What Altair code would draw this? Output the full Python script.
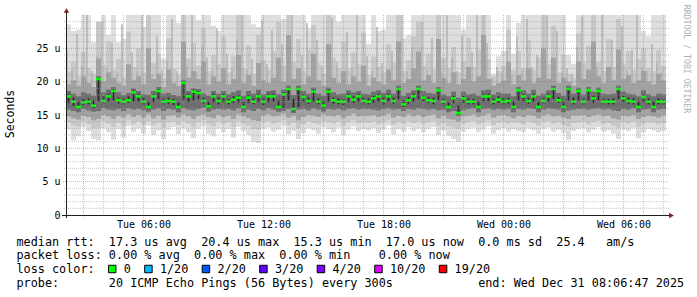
import altair as alt
import pandas as pd

FONT = "DejaVu Sans Mono"

# time axis: hours counted from Tue 00:00, one sample every 15 minutes
START_H = 2.125
STEP_H = 0.25
END_H = 32.125

x_tick_hours = [6, 12, 18, 24, 30]
y_tick_values = [0, 5, 10, 15, 20, 25]

# median rtt (microseconds)
median = [
    17.8, 17.0, 16.2, 16.9, 17.0, 16.4, 20.4, 17.1, 17.8, 18.6,
    17.2, 17.0, 17.2, 18.4, 17.8, 17.0, 16.2, 17.8, 18.6, 17.0,
    17.1, 17.0, 16.2, 19.8, 17.8, 18.5, 18.3, 17.1, 16.3, 17.8,
    17.1, 17.8, 17.0, 17.3, 17.6, 16.2, 17.6, 17.0, 17.8, 17.0,
    17.8, 17.8, 16.2, 18.1, 18.9, 15.9, 18.9, 17.7, 17.1, 18.5,
    17.0, 16.4, 18.5, 17.2, 17.0, 17.0, 17.8, 17.3, 17.8, 17.1,
    17.0, 17.5, 17.8, 17.1, 17.8, 17.1, 18.9, 16.6, 17.2, 17.8,
    18.9, 17.6, 17.2, 17.1, 18.7, 17.0, 16.2, 17.5, 15.3, 17.5,
    17.0, 17.0, 16.2, 17.8, 17.8, 17.0, 17.3, 17.0, 17.1, 16.2,
    18.7, 17.8, 17.1, 17.8, 16.2, 17.1, 17.8, 18.9, 17.2, 16.2,
    18.9, 17.0, 18.6, 17.0, 18.7, 17.5, 18.6, 17.0, 17.0, 17.0,
    18.9, 17.5, 17.1, 17.0, 16.2, 17.7, 17.0, 16.2, 17.0, 17.0,
]

# smoke: outer (lightest) band
smoke1_hi = [
    28.6, 27.6, 27.8, 30, 30, 25.9, 26.2, 30, 27.0, 30,
    25.9, 26.4, 30, 30, 30, 28.2, 30, 30, 30, 23.5,
    30, 30, 28.8, 30, 30, 30, 29.2, 30, 30, 28.4,
    27.6, 30, 30, 30, 29.0, 30, 30, 28.6, 28.2, 30,
    30, 30, 30, 29.4, 30, 30, 30, 30, 28.0, 30,
    30, 30, 30, 30, 29.0, 30, 30, 30, 30, 30,
    25.7, 30, 27.6, 27.8, 30, 30, 30, 26.5, 27.0, 30,
    30, 30, 30, 30, 30, 30, 30, 30, 30, 27.8,
    30, 30, 30, 30, 30, 21.2, 23.8, 24.6, 30, 24.2,
    28.8, 30, 30, 30, 30, 30, 30, 30, 30, 30,
    24.0, 22.7, 30, 30, 30, 30, 30, 30, 30, 30,
    30, 30, 30, 30, 30, 27.6, 26.8, 30, 30, 30,
]
smoke1_lo = [
    12.8, 11.2, 11.8, 13.2, 12.6, 11.4, 11.2, 13.0, 12.4, 11.3,
    12.9, 11.6, 13.3, 12.5, 13.0, 12.2, 13.4, 12.0, 12.7, 11.4,
    12.8, 13.2, 12.1, 13.0, 12.4, 11.5, 12.9, 13.3, 12.2, 11.8,
    13.0, 12.4, 12.9, 11.6, 13.2, 12.6, 12.0, 11.0, 10.8, 12.9,
    13.1, 12.5, 12.8, 13.3, 12.1, 12.6, 11.4, 12.3, 13.0, 12.7,
    12.2, 13.2, 12.9, 12.4, 13.1, 12.0, 12.8, 13.3, 12.6, 12.9,
    12.7, 13.0, 12.3, 12.8, 13.4, 12.1, 12.9, 12.5, 13.2, 12.6,
    13.0, 12.4, 12.9, 13.2, 12.0, 12.7, 11.9, 11.4, 11.0, 12.5,
    12.9, 13.1, 12.4, 12.8, 13.3, 12.2, 12.7, 13.0, 12.5, 12.9,
    12.6, 12.4, 13.0, 12.7, 12.2, 12.9, 13.1, 12.5, 12.8, 12.3,
    11.3, 12.6, 12.9, 13.0, 12.4, 12.8, 13.2, 12.5, 12.7, 12.2,
    11.4, 12.8, 12.6, 13.0, 11.5, 12.4, 12.9, 12.7, 12.4, 12.6,
]
# second band
smoke2_hi = [
    21.5, 23.0, 20.8, 24.5, 22.0, 21.2, 29.0, 22.5, 26.0, 21.8,
    23.4, 20.6, 27.5, 22.2, 25.0, 21.4, 30.0, 22.8, 24.2, 20.5,
    26.5, 22.0, 21.0, 30.0, 23.5, 25.8, 22.4, 28.0, 21.6, 24.0,
    22.6, 26.8, 21.4, 23.8, 30.0, 22.0, 25.4, 21.2, 27.0, 23.2,
    21.8, 24.6, 29.0, 22.4, 30.0, 23.0, 26.4, 21.6, 24.8, 28.5,
    22.8, 21.2, 30.0, 23.6, 22.0, 26.0, 21.8, 24.4, 22.6, 27.4,
    21.0, 23.8, 22.2, 21.4, 25.6, 22.8, 30.0, 21.6, 23.2, 26.8,
    29.0, 22.4, 24.2, 21.8, 30.0, 23.6, 22.0, 25.2, 21.4, 23.0,
    26.6, 22.2, 24.8, 30.0, 23.4, 20.8, 21.6, 22.4, 27.8, 21.8,
    24.6, 22.0, 26.2, 21.8, 23.6, 30.0, 22.6, 28.4, 21.4, 24.0,
    21.2, 20.6, 27.2, 22.8, 25.4, 30.0, 23.0, 21.6, 26.4, 22.2,
    29.4, 22.6, 24.6, 21.8, 23.4, 25.0, 22.0, 21.6, 24.8, 22.4,
]
smoke2_lo = [
    13.9, 13.4, 13.2, 14.0, 13.6, 13.0, 13.1, 14.1, 13.7, 13.2,
    13.8, 13.3, 14.2, 13.6, 14.0, 13.5, 14.1, 13.4, 13.8, 13.1,
    13.9, 14.0, 13.5, 14.1, 13.7, 13.2, 13.9, 14.2, 13.6, 13.3,
    14.0, 13.6, 13.9, 13.2, 14.1, 13.7, 13.4, 12.9, 12.8, 13.9,
    14.1, 13.7, 13.9, 14.2, 13.5, 13.8, 13.0, 13.6, 14.0, 13.8,
    13.6, 14.1, 13.9, 13.7, 14.0, 13.4, 13.9, 14.2, 13.7, 13.9,
    13.8, 14.0, 13.6, 13.9, 14.2, 13.5, 13.9, 13.7, 14.1, 13.8,
    14.0, 13.6, 13.9, 14.1, 13.4, 13.8, 13.3, 13.1, 12.9, 13.7,
    13.9, 14.1, 13.6, 13.9, 14.2, 13.5, 13.8, 14.0, 13.7, 13.9,
    13.8, 13.6, 14.0, 13.8, 13.4, 13.9, 14.1, 13.7, 13.9, 13.5,
    13.2, 13.8, 13.9, 14.0, 13.6, 13.9, 14.1, 13.7, 13.8, 13.4,
    13.1, 13.9, 13.7, 14.0, 13.2, 13.6, 13.9, 13.8, 13.6, 13.8,
]
# third band
smoke3_hi = [
    19.6, 20.2, 19.4, 20.8, 19.8, 19.2, 23.5, 20.0, 21.4, 20.6,
    19.8, 19.4, 22.6, 20.2, 20.8, 19.6, 25.0, 20.4, 21.2, 19.2,
    21.8, 19.8, 19.4, 26.0, 20.6, 21.6, 20.4, 23.0, 19.6, 20.8,
    20.0, 22.0, 19.6, 20.4, 24.0, 19.8, 21.0, 19.4, 22.8, 20.2,
    19.8, 20.6, 23.6, 20.0, 27.0, 20.4, 22.0, 19.6, 20.8, 24.2,
    20.2, 19.4, 25.6, 20.6, 19.8, 21.6, 19.6, 20.8, 20.0, 22.4,
    19.4, 20.6, 20.0, 19.6, 21.8, 20.2, 26.0, 19.8, 20.4, 22.0,
    24.5, 20.2, 21.0, 19.8, 26.4, 20.6, 19.8, 21.4, 19.6, 20.4,
    22.2, 20.0, 20.8, 27.0, 20.4, 19.4, 19.8, 20.2, 23.0, 19.6,
    21.0, 20.2, 22.0, 19.8, 20.6, 25.0, 20.4, 23.6, 19.8, 20.6,
    20.0, 19.4, 23.0, 20.4, 21.8, 26.0, 20.8, 19.8, 22.2, 20.2,
    24.8, 20.4, 21.0, 19.8, 20.2, 21.6, 20.0, 19.6, 21.2, 20.2,
]
smoke3_lo = [
    14.8, 14.5, 14.3, 14.9, 14.7, 14.2, 14.4, 15.0, 14.8, 14.4,
    14.9, 14.6, 15.1, 14.7, 15.0, 14.6, 15.1, 14.5, 14.9, 14.3,
    14.9, 15.0, 14.6, 15.1, 14.8, 14.4, 14.9, 15.1, 14.7, 14.5,
    15.0, 14.7, 14.9, 14.4, 15.1, 14.8, 14.5, 14.2, 14.1, 14.9,
    15.1, 14.8, 14.9, 15.2, 14.6, 14.9, 14.2, 14.7, 15.0, 14.9,
    14.7, 15.1, 14.9, 14.8, 15.0, 14.5, 14.9, 15.2, 14.8, 14.9,
    14.9, 15.0, 14.7, 14.9, 15.2, 14.6, 14.9, 14.7, 15.1, 14.8,
    15.0, 14.7, 14.9, 15.1, 14.5, 14.9, 14.4, 14.3, 14.0, 14.8,
    14.9, 15.1, 14.7, 14.9, 15.2, 14.6, 14.9, 15.0, 14.8, 14.5,
    14.9, 14.7, 15.0, 14.9, 14.5, 14.9, 15.1, 14.8, 14.9, 14.6,
    14.4, 14.9, 14.9, 15.0, 14.7, 14.9, 15.1, 14.8, 14.9, 14.5,
    14.3, 14.9, 14.8, 15.0, 14.4, 14.7, 14.9, 14.8, 14.6, 14.9,
]
# fourth (dark) band
smoke4_hi = [
    18.6, 18.2, 17.8, 18.4, 18.2, 17.9, 20.8, 18.4, 18.8, 19.2,
    18.4, 18.0, 18.3, 19.0, 18.6, 18.1, 18.0, 18.6, 19.2, 18.2,
    18.3, 18.0, 17.8, 20.2, 18.6, 19.0, 18.9, 18.2, 17.9, 18.6,
    18.2, 18.6, 18.1, 18.4, 18.7, 17.9, 18.6, 18.2, 18.8, 18.1,
    18.6, 18.7, 18.1, 18.8, 19.4, 18.0, 19.4, 18.6, 18.2, 19.1,
    18.2, 17.9, 19.1, 18.4, 18.1, 18.2, 18.7, 18.4, 18.6, 18.2,
    18.1, 18.5, 18.7, 18.3, 18.8, 18.2, 19.4, 17.9, 18.3, 18.7,
    19.4, 18.6, 18.3, 18.2, 19.2, 18.1, 17.8, 18.5, 17.6, 18.5,
    18.1, 18.2, 17.9, 18.7, 18.8, 18.1, 18.4, 18.2, 18.2, 17.8,
    19.2, 18.7, 18.2, 18.8, 17.9, 18.2, 18.7, 19.4, 18.3, 17.9,
    19.4, 18.2, 19.1, 18.1, 19.2, 18.5, 19.1, 18.2, 18.1, 18.2,
    19.4, 18.5, 18.2, 18.1, 17.8, 18.7, 18.1, 17.8, 18.2, 18.1,
]
smoke4_lo = [
    15.8, 15.6, 15.4, 15.9, 15.7, 15.5, 15.6, 16.0, 15.8, 15.7,
    15.9, 15.6, 16.0, 15.8, 15.9, 15.7, 15.5, 15.8, 16.0, 15.6,
    15.9, 15.8, 15.4, 16.0, 15.8, 15.7, 15.9, 16.1, 15.5, 15.8,
    15.9, 15.8, 15.9, 15.7, 16.0, 15.4, 15.8, 15.6, 15.9, 15.7,
    16.0, 15.8, 15.5, 15.6, 15.9, 15.3, 15.8, 15.9, 15.7, 16.0,
    15.8, 15.5, 15.9, 15.8, 15.9, 15.7, 15.9, 16.0, 15.8, 15.9,
    15.9, 15.8, 15.7, 15.9, 16.0, 15.8, 15.9, 15.6, 15.9, 15.8,
    16.0, 15.9, 15.8, 15.9, 15.7, 15.8, 15.4, 15.6, 14.9, 15.7,
    15.9, 16.0, 15.4, 15.9, 16.0, 15.8, 15.9, 15.8, 15.9, 15.4,
    15.9, 15.8, 16.0, 15.9, 15.4, 15.8, 16.0, 15.9, 15.8, 15.4,
    15.7, 15.8, 15.9, 15.9, 15.8, 15.9, 16.0, 15.8, 15.9, 15.7,
    15.6, 15.9, 15.8, 16.0, 15.4, 15.8, 15.9, 15.4, 15.8, 15.9,
]
# innermost pings (near-black streak)
core_hi = [
    18.2, 17.6, 17.0, 17.4, 17.5, 17.2, 20.6, 17.8, 18.2, 18.9,
    17.6, 17.5, 17.8, 18.7, 18.2, 17.6, 17.0, 18.1, 18.9, 17.5,
    17.6, 17.4, 16.9, 20.0, 18.2, 18.8, 18.6, 17.6, 17.0, 18.2,
    17.6, 18.2, 17.4, 17.8, 18.0, 17.0, 18.0, 17.5, 18.2, 17.5,
    18.2, 18.2, 17.2, 18.4, 19.1, 17.4, 19.1, 18.1, 17.6, 18.8,
    17.5, 17.0, 18.8, 17.6, 17.5, 17.4, 18.2, 17.8, 18.2, 17.6,
    17.5, 17.9, 18.2, 17.6, 18.2, 17.6, 19.1, 17.2, 17.7, 18.2,
    19.1, 18.0, 17.7, 17.6, 18.9, 17.5, 16.9, 17.9, 16.4, 17.9,
    17.5, 17.4, 17.0, 18.2, 18.2, 17.5, 17.8, 17.5, 17.6, 17.0,
    18.9, 18.2, 17.6, 18.2, 17.0, 17.6, 18.2, 19.1, 17.7, 17.0,
    19.1, 17.6, 18.8, 17.5, 18.9, 17.9, 18.8, 17.5, 17.4, 17.5,
    19.1, 17.9, 17.6, 17.5, 17.0, 18.1, 17.5, 17.0, 17.5, 17.4,
]
core_lo = [
    16.8, 16.4, 15.9, 16.5, 16.6, 16.0, 17.0, 16.7, 17.0, 17.2,
    16.7, 16.6, 16.8, 17.0, 17.0, 16.6, 15.9, 16.9, 17.4, 16.6,
    16.7, 16.5, 15.9, 17.2, 16.9, 17.2, 17.4, 16.7, 16.0, 16.9,
    16.6, 16.9, 16.6, 16.8, 16.9, 15.9, 16.8, 16.6, 16.9, 16.5,
    16.9, 17.0, 15.9, 16.0, 17.2, 15.6, 16.2, 16.9, 16.7, 17.0,
    16.6, 16.0, 16.9, 16.7, 16.6, 16.5, 16.9, 16.8, 17.0, 16.6,
    16.6, 16.8, 17.0, 16.6, 17.0, 16.7, 17.4, 16.2, 16.7, 17.0,
    17.4, 17.0, 16.8, 16.6, 17.3, 16.6, 15.9, 16.8, 15.1, 16.8,
    16.6, 16.6, 15.9, 16.9, 17.0, 16.6, 16.8, 16.6, 16.7, 15.9,
    17.2, 16.9, 16.7, 17.0, 15.9, 16.7, 17.0, 17.4, 16.8, 15.9,
    17.2, 16.6, 17.2, 16.6, 17.2, 16.8, 17.2, 16.6, 16.6, 16.6,
    17.4, 16.9, 16.7, 16.6, 15.9, 16.9, 16.6, 15.9, 16.6, 16.6,
]
# single high pings: thin vertical streaks rising out of the smoke
streak_hi = [
    24.6, 21.8, 27.2, 22.4, 30.0, 21.6, 23.8, 29.0, 22.0, 25.8,
    21.4, 28.6, 22.2, 24.4, 21.6, 30.0, 22.8, 21.2, 26.8, 21.8,
    23.2, 29.4, 21.6, 24.8, 22.4, 30.0, 21.4, 25.4, 23.6, 21.8,
    28.0, 21.6, 24.2, 22.0, 26.4, 30.0, 21.8, 23.4, 21.2, 29.2,
    22.6, 27.8, 21.4, 25.6, 22.2, 30.0, 21.6, 24.0, 28.8, 21.8,
    26.2, 22.4, 21.4, 29.6, 23.0, 21.6, 27.4, 22.2, 30.0, 21.4,
    23.8, 21.6, 28.2, 22.8, 21.4, 24.6, 22.0, 30.0, 21.6, 25.2,
    22.4, 29.0, 21.8, 26.6, 22.2, 21.4, 30.0, 23.6, 21.6, 27.0,
    21.8, 24.4, 30.0, 21.6, 25.8, 20.6, 22.2, 21.4, 24.6, 21.0,
    26.8, 21.6, 29.4, 22.2, 24.0, 21.6, 30.0, 22.6, 27.6, 21.4,
    22.0, 21.2, 25.2, 29.8, 21.8, 23.4, 22.2, 30.0, 21.6, 26.2,
    22.4, 28.4, 21.8, 24.8, 30.0, 22.2, 21.6, 25.6, 22.8, 21.4,
]

legend_lines = [
    "median rtt:  17.3 us avg  20.4 us max  15.3 us min  17.0 us now  0.0 ms sd  25.4   am/s",
    "packet loss: 0.00 % avg  0.00 % max  0.00 % min    0.00 % now",
    "loss color:",
    "probe:       20 ICMP Echo Pings (56 Bytes) every 300s            end: Wed Dec 31 08:06:47 2025",
]
loss_labels = ["0", "1/20", "2/20", "3/20", "4/20", "10/20", "19/20"]
loss_colors = ["#00ff00", "#00b8ff", "#0059ff", "#5e00ff", "#7e00ff", "#dd00ff", "#ff0000"]

# ------------------------------------------------------------------
n = len(median)
t0 = [START_H + i * STEP_H for i in range(n)]
df = pd.DataFrame({
    "t0": t0,
    "t1": [v + STEP_H for v in t0],
    "tc": [v + STEP_H / 2 for v in t0],
    "ts": [v + STEP_H * 0.2 for v in t0],
    "med": median,
    "h1": smoke1_hi, "l1": smoke1_lo,
    "h2": smoke2_hi, "l2": smoke2_lo,
    "h3": smoke3_hi, "l3": smoke3_lo,
    "h4": smoke4_hi, "l4": smoke4_lo,
    "ch": core_hi, "cl": core_lo,
    "sh": streak_hi,
})

W, H = 600, 200
PL, PT = 66, 15
xs = alt.Scale(domain=[START_H, END_H], nice=False, zero=False)
ys = alt.Scale(domain=[0, 30], nice=False, zero=False)

x_axis = alt.Axis(
    values=x_tick_hours, title=None, grid=False, ticks=False, domain=False,
    labelExpr="(datum.value < 24 ? 'Tue ' : 'Wed ') + ((datum.value % 24) < 10 ? '0' : '') + (datum.value % 24) + ':00'",
    labelFont=FONT, labelFontSize=10, labelColor="#000000", labelPadding=4, labelFlush=False,
)
y_axis = alt.Axis(
    values=y_tick_values, title=None, grid=False, ticks=False, domain=False,
    labelExpr="datum.value == 0 ? '0\u00a0\u00a0' : datum.value + '\u00a0u'",
    labelFont=FONT, labelFontSize=10, labelColor="#000000", labelPadding=6,
    labelBaseline="middle",
)


def X(field):
    return alt.X(field, type="quantitative", scale=xs, axis=x_axis)


def Y(field):
    return alt.Y(field, type="quantitative", scale=ys, axis=y_axis)


def band(lo, hi, color):
    return alt.Chart(df).mark_rect(color=color).encode(
        x=X("t0"), x2="t1", y=Y(lo), y2=hi,
    )


layers = [
    band("l1", "h1", "#dedede"),
    band("l2", "h2", "#c8c8c8"),
    alt.Chart(df).mark_rule(color="#b2b2b2", strokeWidth=1.5).encode(
        x=X("ts"), y=Y("h3"), y2="sh"),
    band("l3", "h3", "#a2a2a2"),
    band("l4", "h4", "#6e6e6e"),
    alt.Chart(df).mark_rule(color="#262626", strokeWidth=1.6).encode(
        x=X("tc"), y=Y("cl"), y2="ch"),
    alt.Chart(df).mark_rule(color="#00ff00", strokeWidth=2.6).encode(
        x=X("t0"), x2="t1", y=Y("med")),
]

# grid lines (drawn over the smoke, like rrdtool)
hours = list(range(3, 33))
minor_h = pd.DataFrame({"h": [h for h in hours if h % 3]})
major_h = pd.DataFrame({"h": [h for h in hours if h % 3 == 0]})
minor_v = pd.DataFrame({"v": [v for v in range(1, 30) if v % 5]})
major_v = pd.DataFrame({"v": [v for v in range(5, 30, 5)]})
GRID, MGRID = "#9a9a9a", "#de4f4f"

layers += [
    alt.Chart(minor_h).mark_rule(color=GRID, opacity=0.55, strokeDash=[1, 1]).encode(
        x=X("h"), y=alt.value(0), y2=alt.value(H + 2)),
    alt.Chart(major_h).mark_rule(color=MGRID, opacity=0.5, strokeDash=[1, 1]).encode(
        x=X("h"), y=alt.value(0), y2=alt.value(H + 3)),
    alt.Chart(minor_v).mark_rule(color=GRID, opacity=0.55, strokeDash=[1, 1]).encode(
        y=Y("v"), x=alt.value(-2), x2=alt.value(W + 3)),
    alt.Chart(major_v).mark_rule(color=MGRID, opacity=0.5, strokeDash=[1, 1]).encode(
        y=Y("v"), x=alt.value(-3), x2=alt.value(W + 3)),
    # axis lines
    alt.Chart(pd.DataFrame({"a": [0]})).mark_rule(color="#1f1f1f", strokeWidth=1).encode(
        x=alt.value(-4), x2=alt.value(W + 5), y=alt.value(H + 0.5)),
    alt.Chart(pd.DataFrame({"a": [0]})).mark_rule(color="#1f1f1f", strokeWidth=1).encode(
        x=alt.value(0.5), y=alt.value(-4), y2=alt.value(H + 3)),
    # arrows
    alt.Chart(pd.DataFrame({"a": [0]})).mark_point(
        shape="triangle-up", filled=True, color="#801f1f", size=30, opacity=1).encode(
        x=alt.value(0.5), y=alt.value(-4.5)),
    alt.Chart(pd.DataFrame({"a": [0]})).mark_point(
        shape="triangle-right", filled=True, color="#801f1f", size=30, opacity=1).encode(
        x=alt.value(W + 5.5), y=alt.value(H + 0.5)),
]


def text(s, x, y, size=11.8, color="#000000", angle=0, align="left"):
    s = s.replace(" ", "\u00a0")
    return alt.Chart(pd.DataFrame({"s": [s]})).mark_text(
        font=FONT, fontSize=size, color=color, align=align, baseline="middle", angle=angle,
    ).encode(text="s:N", x=alt.value(x - PL), y=alt.value(y - PT))


CH = 7.1  # legend character advance
LX = 16.5
line_y = [241.7, 255.0, 269.0, 282.7]
for s, yy in zip(legend_lines, line_y):
    layers.append(text(s, LX, yy))

# loss colour boxes
tx = LX + 15.1 * CH
for lab, col in zip(loss_labels, loss_colors):
    bx = tx - 11.5
    layers.append(
        alt.Chart(pd.DataFrame({"a": [0]})).mark_square(
            size=56, color=col, opacity=1, stroke="#000000", strokeWidth=1).encode(
            x=alt.value(bx - PL), y=alt.value(line_y[2] - PT)))
    layers.append(text(lab, tx, line_y[2]))
    tx += (len(lab) + 4.1) * CH

layers.append(text("Seconds", 11, 114, size=11.5, angle=270, align="center"))
layers.append(text("RRDTOOL / TOBI OETIKER", 686, 59, size=8.2, color="#b0b0b0", angle=90, align="center"))

chart = alt.layer(*layers).properties(
    width=W, height=H,
    autosize=alt.AutoSizeParams(type="none"),
    padding={"left": PL, "top": PT, "right": 697 - PL - W, "bottom": 297 - PT - H},
    background="white",
).configure_view(stroke=None)

chart.save("out.html", embed_options={"renderer": "svg", "actions": False})
